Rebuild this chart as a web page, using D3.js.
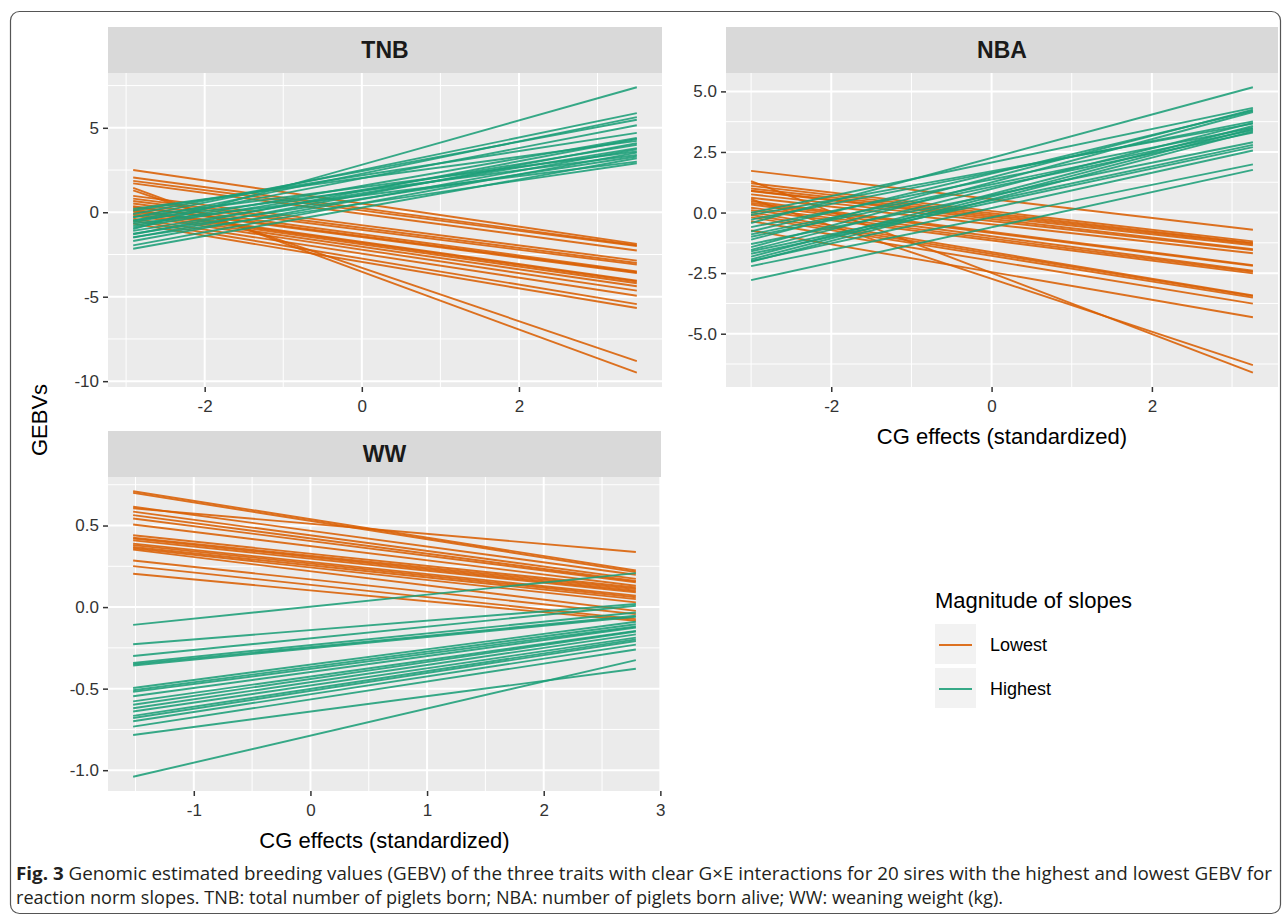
<!DOCTYPE html>
<html>
<head>
<meta charset="utf-8">
<script src="https://cdn.jsdelivr.net/npm/d3@7"></script>
<style>
  body { margin: 0; background: #fff; }
  svg { display: block; }
  text { font-family: "Liberation Sans", Arial, sans-serif; }
</style>
</head>
<body>
<svg id="chart"></svg>
<script>
const width = 1284;
const height = 919;

// each line: [GEBV at first CG value, GEBV at last CG value]
const tnbX = [-2.91, 3.50];
const tnbLowest = [[2.5, -1.87], [2.06, -1.95], [1.86, -2.0], [1.71, -2.26], [1.45, -9.5],
  [1.3, -8.81], [0.97, -2.86], [0.81, -3.0], [0.67, -3.1], [0.52, -3.5],
  [0.36, -3.55], [0.3, -3.6], [0.16, -4.05], [0.1, -4.1], [0.02, -4.2],
  [-0.1, -4.38], [-0.2, -4.64], [-0.38, -4.94], [-0.5, -5.44], [-0.67, -5.67]];
const tnbHighest = [[-1.0, 7.4], [-0.3, 5.87], [-0.5, 5.63], [-0.1, 5.48], [-0.6, 5.15],
  [0.1, 4.7], [-0.8, 4.4], [-1.3, 4.34], [0.2, 4.23], [-1.5, 4.09],
  [-0.9, 4.0], [-1.1, 3.8], [-1.7, 3.73], [-0.28, 3.6], [-1.96, 3.53],
  [-0.48, 3.39], [-1.27, 3.3], [-2.16, 3.2], [-0.67, 3.0], [-1.47, 2.9]];
const tnbXTicks = [-2, 0, 2];
const tnbYTicks = [-10, -5, 0, 5];

const nbaX = [-3.0, 3.26];
const nbaLowest = [[1.72, -0.71], [1.30, -6.61], [1.21, -1.19], [1.10, -1.25], [0.99, -1.29],
  [0.9, -1.35], [0.89, -1.51], [0.75, -1.55], [0.61, -1.68], [0.55, -6.3],
  [0.47, -2.17], [0.4, -2.2], [0.33, -2.4], [0.2, -2.45], [0.1, -2.51],
  [0.01, -3.42], [-0.1, -3.45], [-0.2, -3.51], [-0.36, -3.76], [-0.74, -4.32]];
const nbaHighest = [[-0.43, 5.17], [-0.01, 4.32], [-1.12, 4.25], [-0.78, 4.2], [-1.43, 4.15],
  [-0.29, 3.76], [-1.54, 3.7], [-0.1, 3.67], [-1.82, 3.57], [-0.6, 3.5],
  [-1.93, 3.46], [-0.9, 3.4], [-2.03, 3.35], [-1.0, 3.3], [-1.3, 2.9],
  [-1.6, 2.79], [-1.7, 2.7], [-2.0, 2.56], [-2.21, 1.99], [-2.79, 1.76]];
const nbaXTicks = [-2, 0, 2];
const nbaYTicks = [-5, -2.5, 0, 2.5, 5];

const wwX = [-1.52, 2.79];
const wwLowest = [[0.605, 0.338], [0.71, 0.224], [0.70, 0.214], [0.615, 0.198], [0.585, 0.173],
  [0.564, 0.16], [0.543, 0.152], [0.506, 0.131], [0.44, 0.12], [0.426, 0.111],
  [0.42, 0.10], [0.409, 0.091], [0.389, 0.07], [0.38, 0.06], [0.368, 0.049],
  [0.36, 0.029], [0.352, -0.023], [0.286, -0.043], [0.251, -0.074], [0.204, -0.084]];
const wwHighest = [[-0.109, 0.208], [-0.228, 0.019], [-0.30, 0.008], [-0.342, -0.033], [-0.35, -0.053],
  [-0.358, -0.06], [-0.496, -0.09], [-0.51, -0.105], [-0.52, -0.119], [-0.547, -0.125],
  [-0.578, -0.146], [-0.599, -0.15], [-0.62, -0.167], [-0.64, -0.187], [-0.667, -0.198],
  [-0.68, -0.208], [-0.70, -0.23], [-0.733, -0.26], [-0.784, -0.378], [-1.04, -0.325]];
const wwXTicks = [-1, 0, 1, 2, 3];
const wwYTicks = [-1, -0.5, 0, 0.5];

const groups = ["Lowest", "Highest"];
const colors = { Lowest: "#d95f02", Highest: "#1b9e77" };

let svg = d3.select("#chart")
  .attr("width", width)
  .attr("height", height);

// figure frame
svg.append("rect")
  .attr("x", 10.5).attr("y", 11.5)
  .attr("width", 1270).attr("height", 902)
  .attr("rx", 9)
  .style("fill", "none")
  .style("stroke", "#555")
  .style("stroke-width", 1.2);

function expand(ext) {
  const pad = (ext[1] - ext[0]) * 0.05;
  return [ext[0] - pad, ext[1] + pad];
}

function minorBreaks(ticks, domain) {
  const step = ticks[1] - ticks[0];
  let out = [];
  for (let v = ticks[0] - step / 2; v <= domain[1]; v += step) {
    if (v >= domain[0]) out.push(v);
  }
  return out;
}

// ggplot prints a plain hyphen for negatives
const hyphen = f => d => f(d).replace("\u2212", "-");

function drawPanel(p) {
  const x = d3.scaleLinear().domain(expand(p.xr)).range([p.left, p.right]);
  const allY = p.lowest.concat(p.highest).flat();
  const y = d3.scaleLinear().domain(expand(d3.extent(allY))).range([p.bottom, p.top]);

  let g = svg.append("g");

  // strip
  g.append("rect")
    .attr("x", p.left).attr("y", p.stripTop)
    .attr("width", p.right - p.left).attr("height", p.top - p.stripTop)
    .style("fill", "#d9d9d9");
  g.append("text")
    .attr("x", (p.left + p.right) / 2).attr("y", (p.top + p.stripTop) / 2 + 8)
    .attr("text-anchor", "middle")
    .style("font-size", "23px").style("font-weight", "bold")
    .style("fill", "#1a1a1a")
    .text(p.name);

  // panel background
  g.append("rect")
    .attr("x", p.left).attr("y", p.top)
    .attr("width", p.right - p.left).attr("height", p.bottom - p.top)
    .style("fill", "#ebebeb");

  // grid
  g.selectAll(".xminor").data(minorBreaks(p.xTicks, x.domain())).join("line")
    .attr("x1", d => x(d)).attr("x2", d => x(d))
    .attr("y1", p.top).attr("y2", p.bottom)
    .style("stroke", "#fff").style("stroke-width", 1);
  g.selectAll(".yminor").data(minorBreaks(p.yTicks, y.domain())).join("line")
    .attr("y1", d => y(d)).attr("y2", d => y(d))
    .attr("x1", p.left).attr("x2", p.right)
    .style("stroke", "#fff").style("stroke-width", 1);
  g.selectAll(".xmajor").data(p.xTicks).join("line")
    .attr("x1", d => x(d)).attr("x2", d => x(d))
    .attr("y1", p.top).attr("y2", p.bottom)
    .style("stroke", "#fff").style("stroke-width", 2);
  g.selectAll(".ymajor").data(p.yTicks).join("line")
    .attr("y1", d => y(d)).attr("y2", d => y(d))
    .attr("x1", p.left).attr("x2", p.right)
    .style("stroke", "#fff").style("stroke-width", 2);

  // reaction norm lines
  const line = d3.line().x(d => x(d.x)).y(d => y(d.y));
  groups.forEach(grp => {
    const rows = grp === "Lowest" ? p.lowest : p.highest;
    g.selectAll(".l" + grp).data(rows).join("path")
      .attr("d", d => line([{ x: p.xr[0], y: d[0] }, { x: p.xr[1], y: d[1] }]))
      .style("fill", "none")
      .style("stroke", colors[grp])
      .style("stroke-opacity", 0.88)
      .style("stroke-width", 1.9);
  });

  // axes
  const xAxis = g.append("g")
    .attr("transform", `translate(0,${p.bottom})`)
    .call(d3.axisBottom(x).tickValues(p.xTicks).tickSize(5).tickPadding(4).tickFormat(hyphen(d3.format("d"))));
  const yAxis = g.append("g")
    .attr("transform", `translate(${p.left},0)`)
    .call(d3.axisLeft(y).tickValues(p.yTicks).tickSize(5).tickPadding(4).tickFormat(hyphen(p.yFmt)));
  [xAxis, yAxis].forEach(a => {
    a.select(".domain").remove();
    a.selectAll(".tick line").style("stroke", "#333").style("stroke-width", 1.5);
    a.selectAll(".tick text")
      .style("font-size", "17px").style("fill", "#333")
      .style("font-family", "'Liberation Sans', Arial, sans-serif");
  });
  xAxis.selectAll(".tick text").attr("dy", "0.95em");

  if (p.xTitle) {
    g.append("text")
      .attr("x", (p.left + p.right) / 2).attr("y", p.bottom + 57)
      .attr("text-anchor", "middle")
      .style("font-size", "22px").style("fill", "#000")
      .text("CG effects (standardized)");
  }
}

drawPanel({ name: "TNB", left: 108, right: 662, stripTop: 27, top: 73, bottom: 387,
  xr: tnbX, lowest: tnbLowest, highest: tnbHighest, xTicks: tnbXTicks, yTicks: tnbYTicks,
  yFmt: d3.format("d"), xTitle: false });
drawPanel({ name: "NBA", left: 726, right: 1278, stripTop: 27, top: 73, bottom: 387,
  xr: nbaX, lowest: nbaLowest, highest: nbaHighest, xTicks: nbaXTicks, yTicks: nbaYTicks,
  yFmt: d3.format(".1f"), xTitle: true });
drawPanel({ name: "WW", left: 108, right: 661, stripTop: 431, top: 477, bottom: 791,
  xr: wwX, lowest: wwLowest, highest: wwHighest, xTicks: wwXTicks, yTicks: wwYTicks,
  yFmt: d3.format(".1f"), xTitle: true });

// y axis title
svg.append("text")
  .attr("transform", "translate(47,420) rotate(-90)")
  .attr("text-anchor", "middle")
  .style("font-size", "22px")
  .text("GEBVs");

// legend
let legend = svg.append("g").attr("transform", "translate(935,0)");
legend.append("text")
  .attr("x", 0).attr("y", 608)
  .style("font-size", "22px")
  .text("Magnitude of slopes");
groups.forEach((grp, i) => {
  const top = 624 + i * 44;
  legend.append("rect")
    .attr("x", 0).attr("y", top).attr("width", 41).attr("height", 40)
    .style("fill", "#f2f2f2");
  legend.append("line")
    .attr("x1", 4).attr("x2", 37).attr("y1", top + 21).attr("y2", top + 21)
    .style("stroke", colors[grp]).style("stroke-opacity", 0.88).style("stroke-width", 2);
  legend.append("text")
    .attr("x", 55).attr("y", top + 27)
    .style("font-size", "18px")
    .text(grp);
});

// caption
let cap1 = svg.append("text")
  .attr("x", 16).attr("y", 880)
  .attr("textLength", 1256).attr("lengthAdjust", "spacingAndGlyphs")
  .style("font-family", "'Open Sans', sans-serif")
  .style("font-size", "18px").style("fill", "#231f20");
cap1.append("tspan").style("font-weight", "bold").text("Fig. 3");
cap1.append("tspan").text("  Genomic estimated breeding values (GEBV) of the three traits with clear G\u00d7E interactions for 20 sires with the highest and lowest GEBV for");
svg.append("text")
  .attr("x", 16).attr("y", 904)
  .attr("textLength", 987).attr("lengthAdjust", "spacingAndGlyphs")
  .style("font-family", "'Open Sans', sans-serif")
  .style("font-size", "18px").style("fill", "#231f20")
  .text("reaction norm slopes. TNB: total number of piglets born; NBA: number of piglets born alive; WW: weaning weight (kg).");
</script>
</body>
</html>
